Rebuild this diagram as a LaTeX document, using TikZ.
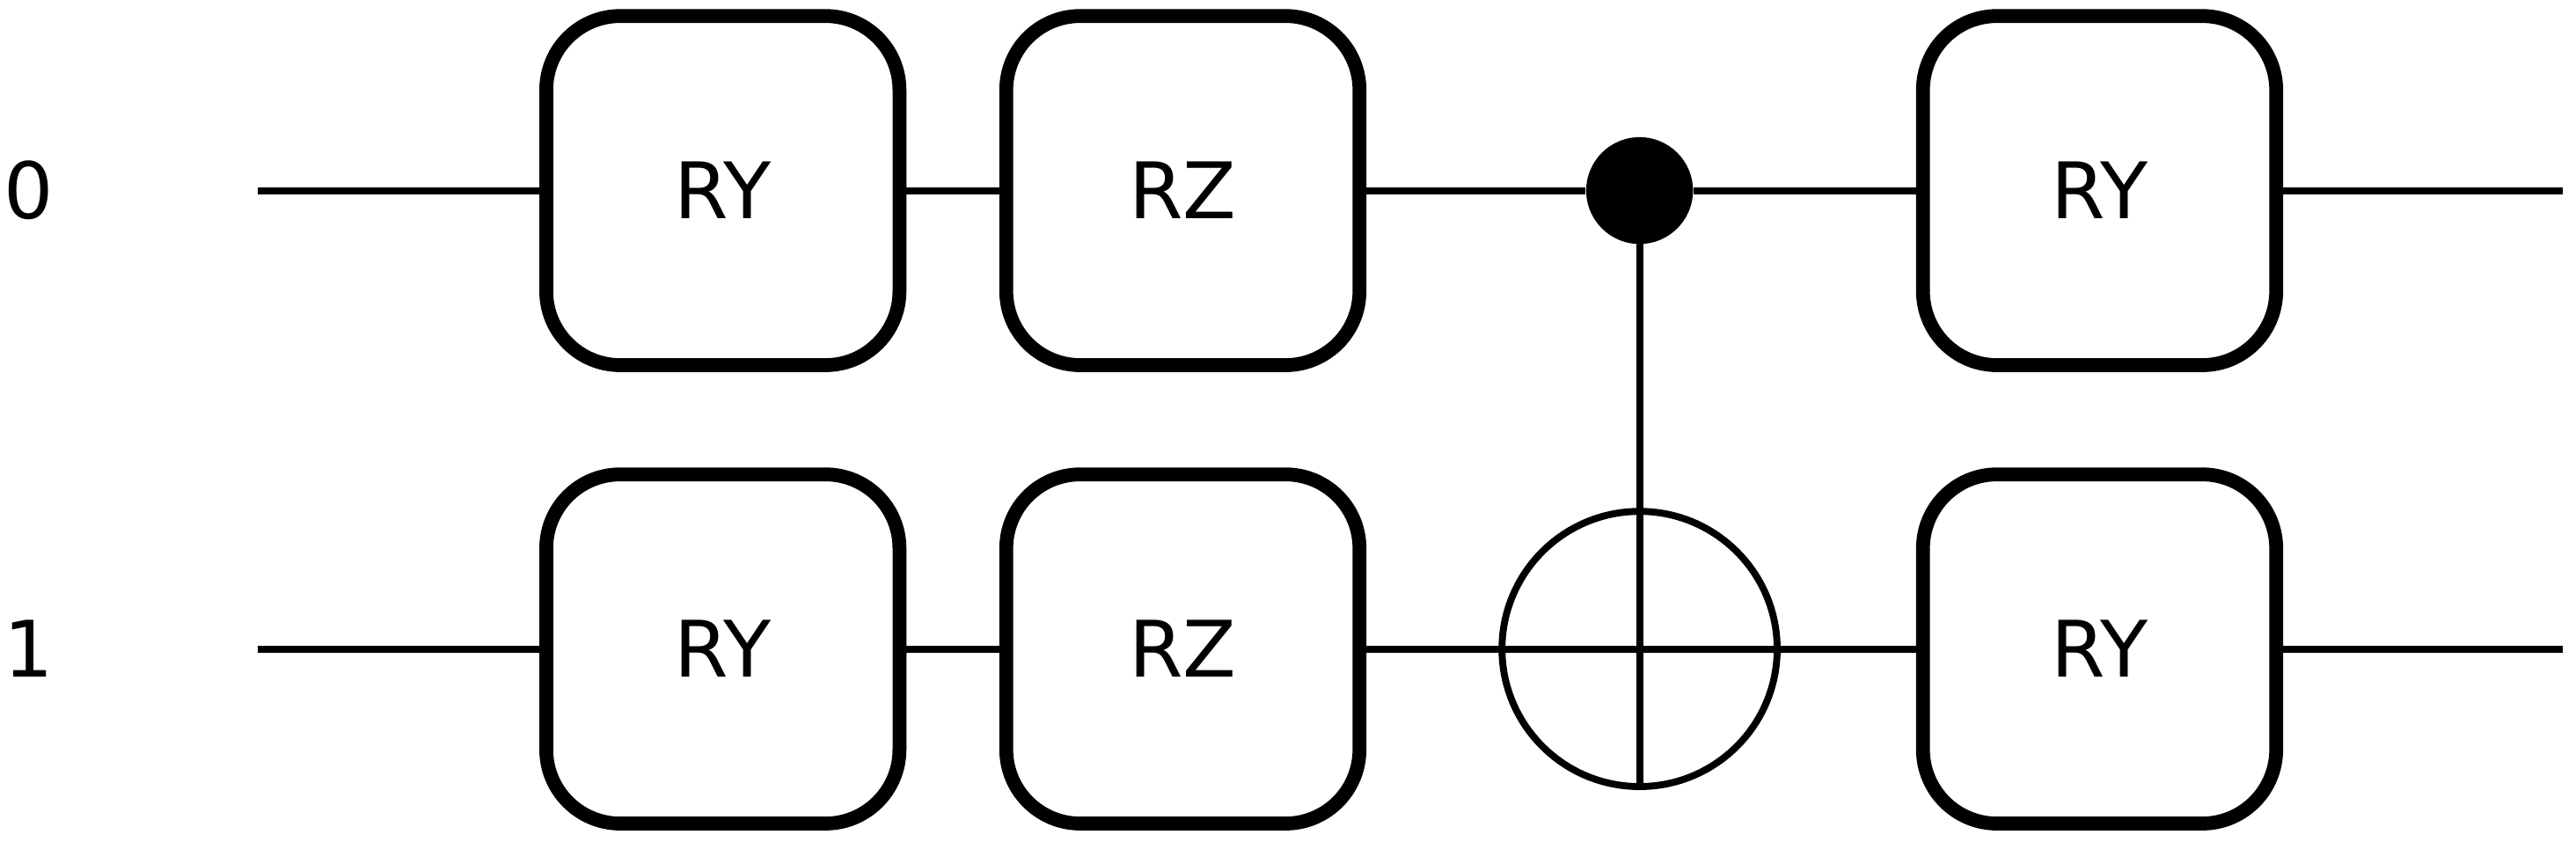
\documentclass[tikz,border=0pt]{standalone}
\usepackage{fontspec}
\setmainfont{DejaVu Sans}
\begin{document}
\begin{tikzpicture}[x=0.2mm,y=-0.2mm]
  \tikzset{
    gate/.style={draw, line width=4.8pt, rounded corners=0.9cm,
      minimum width=4.3cm, minimum height=4.25cm, font=\fontsize{27}{30}\selectfont},
    wire/.style={line width=2.4pt},
    qlabel/.style={font=\fontsize{27}{30}\selectfont, anchor=west}
  }
  \useasboundingbox (0,0) rectangle (1568,512);

  % qubit labels and wire ends
  \node[qlabel] (q0) at (-4,116) {0};
  \node[qlabel] (q1) at (-4,395) {1};
  \coordinate (s0) at (157,116);
  \coordinate (s1) at (157,395);
  \coordinate (e0) at (1560,116);
  \coordinate (e1) at (1560,395);

  % gates
  \node[gate] (ry0a) at (440,116) {RY};
  \node[gate] (rz0) at (720,116) {RZ};
  \node[gate] (ry0b) at (1278,116) {RY};
  \node[gate] (ry1a) at (440,395) {RY};
  \node[gate] (rz1) at (720,395) {RZ};
  \node[gate] (ry1b) at (1278,395) {RY};

  % CNOT
  \node[circle, fill=black, minimum size=1.3cm, inner sep=0pt] (ctl) at (998,116) {};
  \node[circle, draw, line width=2.4pt, minimum size=3.35cm, inner sep=0pt] (tgt) at (998,395) {};

  % wires
  \draw[wire] (s0) -- (ry0a) (ry0a) -- (rz0) (rz0) -- (ctl) (ctl) -- (ry0b) (ry0b) -- (e0);
  \draw[wire] (s1) -- (ry1a) (ry1a) -- (rz1) (rz1) -- (ry1b) (ry1b) -- (e1);
  \draw[wire] (ctl.center) -- (tgt.south);
\end{tikzpicture}
\end{document}
